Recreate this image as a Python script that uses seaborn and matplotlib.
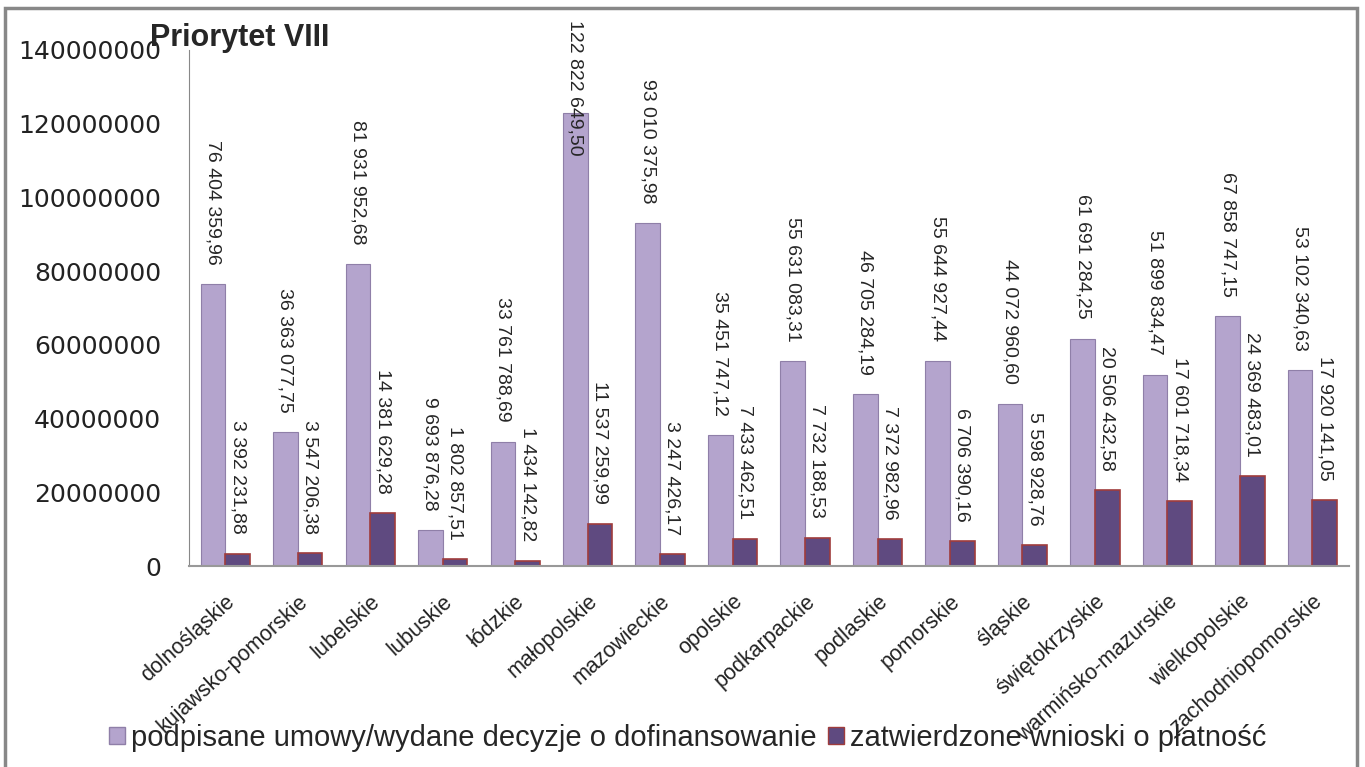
import pandas as pd
import matplotlib.pyplot as plt
import matplotlib.patches as mpatches
import seaborn as sns

regions = ["dolnośląskie", "kujawsko-pomorskie", "lubelskie", "lubuskie", "łódzkie",
           "małopolskie", "mazowieckie", "opolskie", "podkarpackie", "podlaskie",
           "pomorskie", "śląskie", "świętokrzyskie", "warmińsko-mazurskie",
           "wielkopolskie", "zachodniopomorskie"]
umowy = [76404359.96, 36363077.75, 81931952.68, 9693876.28, 33761788.69,
         122822649.50, 93010375.98, 35451747.12, 55631083.31, 46705284.19,
         55644927.44, 44072960.60, 61691284.25, 51899834.47, 67858747.15,
         53102340.63]
wnioski = [3392231.88, 3547206.38, 14381629.28, 1802857.51, 1434142.82,
           11537259.99, 3247426.17, 7433462.51, 7732188.53, 7372982.96,
           6706390.16, 5598928.76, 20506432.58, 17601718.34, 24369483.01,
           17920141.05]
series_names = ["podpisane umowy/wydane decyzje o dofinansowanie",
                "zatwierdzone wnioski o płatność"]
yticks = [0, 20000000, 40000000, 60000000, 80000000, 100000000, 120000000, 140000000]

light = "#B4A4CD"
dark = "#5F4A80"

df = pd.DataFrame({"region": regions * 2,
                   "value": umowy + wnioski,
                   "series": [series_names[0]] * len(regions) + [series_names[1]] * len(regions)})


def pl_format(v):
    s = f"{v:,.2f}"
    return s.replace(",", " ").replace(".", ",")


sns.set_style("white")
plt.rcParams["font.family"] = ["DejaVu Sans"]

fig = plt.figure(figsize=(13.65, 7.67), dpi=100)
ax = fig.add_axes([0.1385, 0.262, 0.8495, 0.673])

sns.barplot(data=df, x="region", y="value", hue="series", order=regions,
            hue_order=series_names, palette=[light, dark], width=0.68,
            saturation=1, legend=False, ax=ax)

# edges like the original
for p in ax.containers[0]:
    p.set_edgecolor("#8F7FA8")
    p.set_linewidth(0.8)
for p in ax.containers[1]:
    p.set_edgecolor("#A03C3C")
    p.set_linewidth(1.2)

# rotated data labels above bars
top_limit = 148000000
for cont in ax.containers:
    for p in cont:
        v = p.get_height()
        xc = p.get_x() + p.get_width() / 2
        if v > 100000000:
            ax.text(xc, top_limit, pl_format(v), rotation=270, ha="center", va="top",
                    fontsize=14, family="Liberation Sans", clip_on=False)
        else:
            ax.annotate(pl_format(v), (xc, v), xytext=(0, 14), textcoords="offset points",
                        rotation=270, ha="center", va="bottom",
                        fontsize=14, family="Liberation Sans", annotation_clip=False)

ax.set_ylim(0, 140000000)
ax.set_xlim(-0.5, len(regions) - 0.5)
ax.set_yticks(yticks)
ax.set_yticklabels([str(t) for t in yticks], fontsize=18, color="#222222")
ax.set_xticks(range(len(regions)))
ax.set_xticklabels(regions, rotation=42, ha="right", rotation_mode="anchor",
                   fontsize=15.5, color="#222222", family="Liberation Sans")
ax.tick_params(axis="x", length=0, pad=18)
ax.tick_params(axis="y", length=0, pad=20)
ax.set_xlabel("")
ax.set_ylabel("")

for s in ["top", "right"]:
    ax.spines[s].set_visible(False)
ax.spines["left"].set_color("#888888")
ax.spines["bottom"].set_color("#999999")
ax.spines["bottom"].set_linewidth(1.5)

fig.text(150 / 1365, 1 - 38 / 767, "Priorytet VIII", fontsize=22, fontweight="bold",
         family="Liberation Sans", ha="left", va="center")

handles = [mpatches.Patch(facecolor=light, edgecolor="#8F7FA8", label=series_names[0]),
           mpatches.Patch(facecolor=dark, edgecolor="#A03C3C", label=series_names[1])]
fig.legend(handles=handles, loc="center", bbox_to_anchor=(688 / 1365, 1 - 738 / 767),
           ncol=2, frameon=False, handlelength=0.55, handleheight=0.55,
           handletextpad=0.2, columnspacing=0.4,
           prop={"family": "Liberation Sans", "size": 21})

# outer chart border
fig.patches.append(mpatches.Rectangle((0.004, -0.02), 0.99, 1.01, transform=fig.transFigure,
                                      fill=False, edgecolor="#888888", linewidth=2.5))

fig.savefig("out.png", dpi=100)
